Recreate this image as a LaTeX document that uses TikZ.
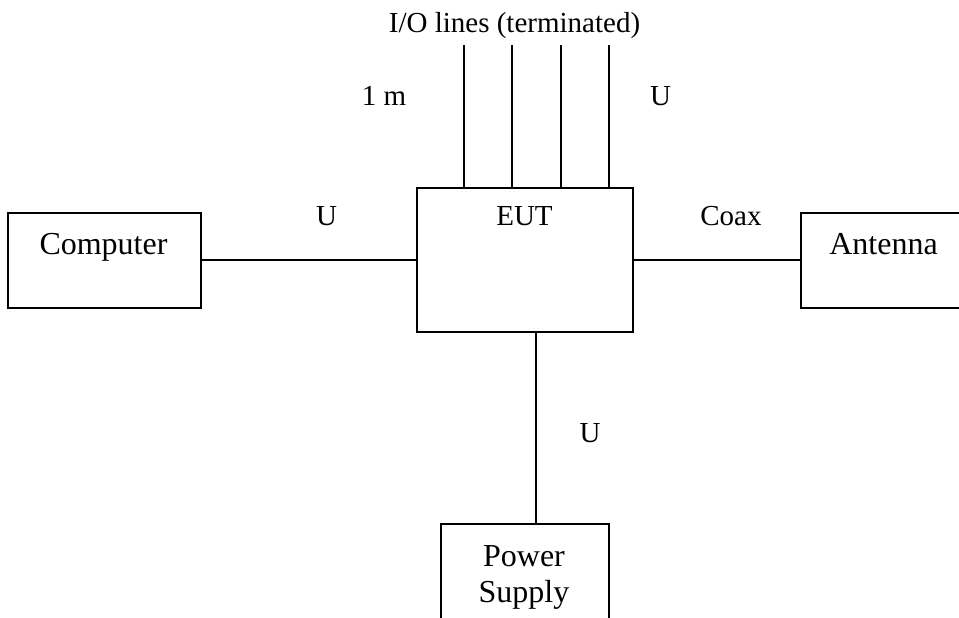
\documentclass[tikz,border=0pt]{standalone}
\usepackage{fontspec}
\setmainfont{Liberation Serif}
\begin{document}
\begin{tikzpicture}[x=1pt,y=-1pt,
  box/.style={draw, line width=1.5pt, inner sep=0pt, outer sep=0pt},
  txt/.style={inner sep=0pt, anchor=base, font=\fontsize{29pt}{34pt}\selectfont},
  bigtxt/.style={inner sep=0pt, anchor=base, font=\fontsize{32pt}{36pt}\selectfont},
  wire/.style={line width=1.5pt}]
\useasboundingbox (0,0) rectangle (959,618);
\clip (0,0) rectangle (959,618);
% boxes
\node[box, minimum width=193pt, minimum height=95pt] (comp) at (104.5,260.5) {};
\node[box, minimum width=216pt, minimum height=144pt] (eut) at (525,260) {};
\node[box, minimum width=169pt, minimum height=95pt] (ant) at (885.5,260.5) {};
\node[box, minimum width=168pt, minimum height=106pt] (ps) at (525,577) {};
% box texts
\node[bigtxt] (tcomp) at (103.5,254) {Computer};
\node[txt] (teut) at (524.5,225) {EUT};
\node[bigtxt] (tant) at (883.5,254) {Antenna};
\node[bigtxt] (tpow) at (524,566) {Power};
\node[bigtxt] (tsup) at (524,602) {Supply};
% labels
\node[txt] (lio) at (514.5,33) {I/O lines (terminated)};
\node[txt] (l1m) at (384,106) {1 m};
\node[txt] (lu1) at (660.5,106) {U};
\node[txt] (lu2) at (326.5,225) {U};
\node[txt] (lcoax) at (731,225) {Coax};
\node[txt] (lu3) at (590,442) {U};
% I/O line free ends
\coordinate (io1) at (464,45);
\coordinate (io2) at (512,45);
\coordinate (io3) at (561,45);
\coordinate (io4) at (609,45);
\foreach \i in {1,...,4} {
  \draw[wire] (io\i) -- (io\i |- eut.north);
}
% connectors
\draw[wire] (comp.east |- eut.west) -- (eut.west);
\draw[wire] (eut.east) -- (ant.west |- eut.east);
\draw[wire] ([xshift=11pt]eut.south) -- ([xshift=11pt]eut.south |- ps.north);
\end{tikzpicture}
\end{document}
